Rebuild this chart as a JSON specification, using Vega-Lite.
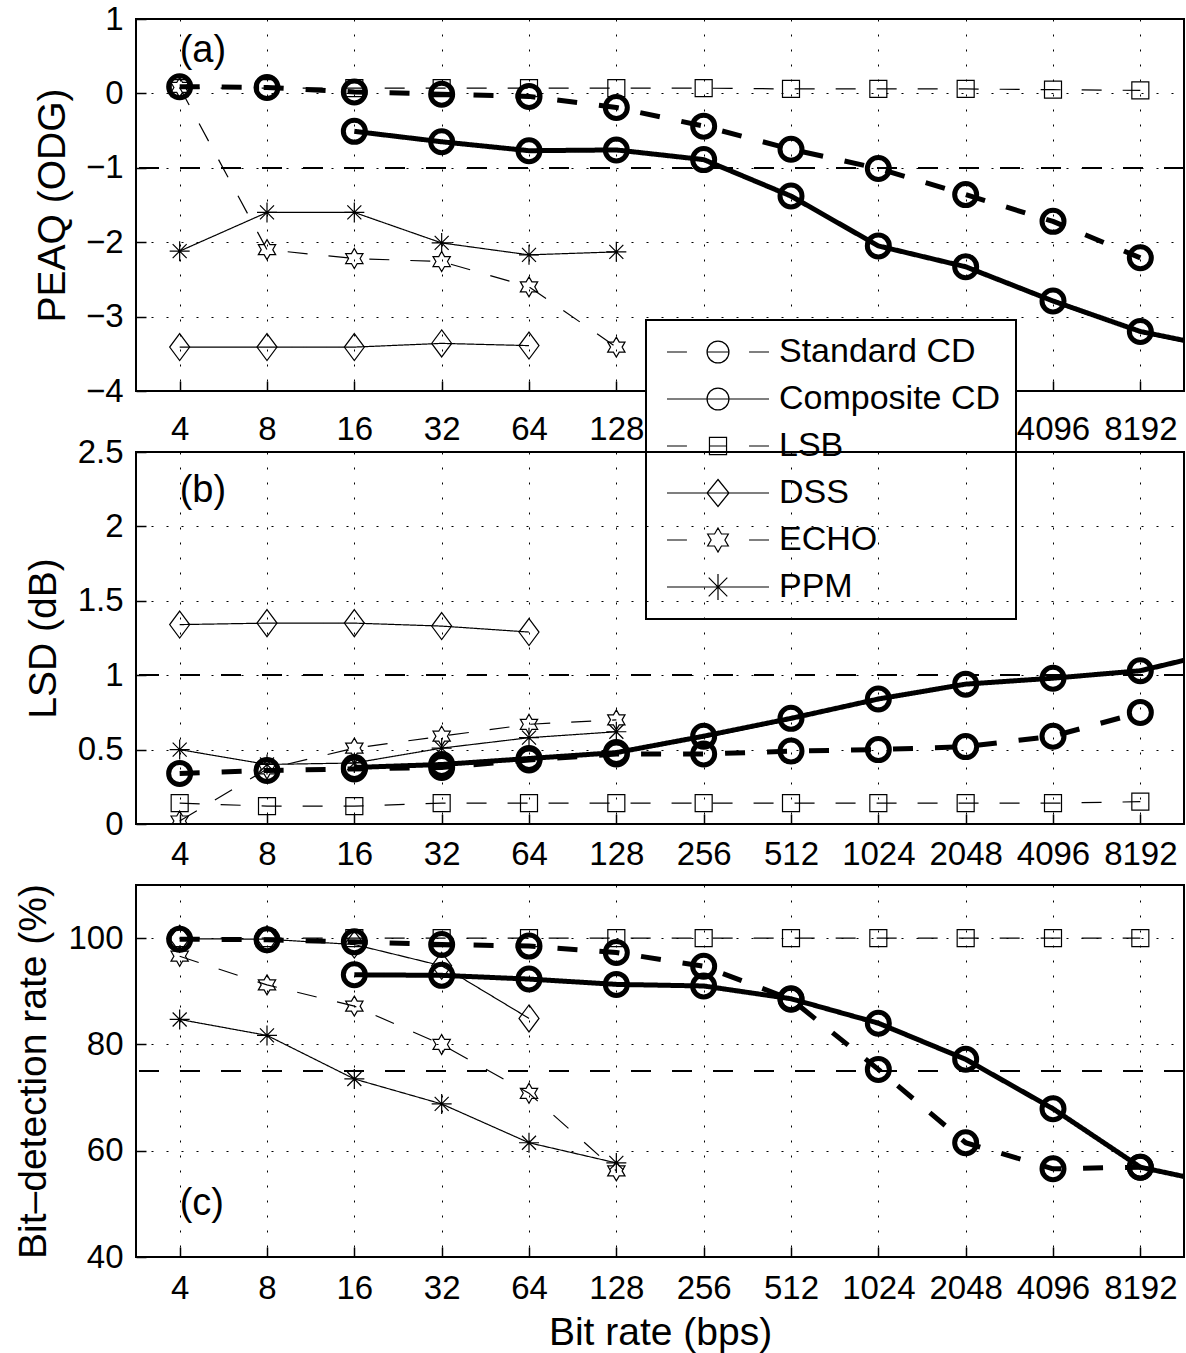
{
  "$schema": "https://vega.github.io/schema/vega-lite/v6.json",
  "background": "white",
  "padding": {"left": 12, "top": 2, "right": 4, "bottom": 4},
  "data": {
    "values": [
      {"p": "a", "s": "Standard CD", "r": 4, "v": 0.09},
      {"p": "a", "s": "Standard CD", "r": 8, "v": 0.08},
      {"p": "a", "s": "Standard CD", "r": 16, "v": 0.02},
      {"p": "a", "s": "Standard CD", "r": 32, "v": -0.01},
      {"p": "a", "s": "Standard CD", "r": 64, "v": -0.04},
      {"p": "a", "s": "Standard CD", "r": 128, "v": -0.19},
      {"p": "a", "s": "Standard CD", "r": 256, "v": -0.44},
      {"p": "a", "s": "Standard CD", "r": 512, "v": -0.75},
      {"p": "a", "s": "Standard CD", "r": 1024, "v": -1.01},
      {"p": "a", "s": "Standard CD", "r": 2048, "v": -1.36},
      {"p": "a", "s": "Standard CD", "r": 4096, "v": -1.72},
      {"p": "a", "s": "Standard CD", "r": 8192, "v": -2.21},
      {"p": "a", "s": "Composite CD", "r": 16, "v": -0.51},
      {"p": "a", "s": "Composite CD", "r": 32, "v": -0.65},
      {"p": "a", "s": "Composite CD", "r": 64, "v": -0.77},
      {"p": "a", "s": "Composite CD", "r": 128, "v": -0.76},
      {"p": "a", "s": "Composite CD", "r": 256, "v": -0.89},
      {"p": "a", "s": "Composite CD", "r": 512, "v": -1.38},
      {"p": "a", "s": "Composite CD", "r": 1024, "v": -2.05},
      {"p": "a", "s": "Composite CD", "r": 2048, "v": -2.33},
      {"p": "a", "s": "Composite CD", "r": 4096, "v": -2.79},
      {"p": "a", "s": "Composite CD", "r": 8192, "v": -3.2},
      {"p": "a", "s": "Composite CD", "r": 16384, "v": -3.44},
      {"p": "a", "s": "LSB", "r": 4, "v": 0.07},
      {"p": "a", "s": "LSB", "r": 8, "v": 0.07},
      {"p": "a", "s": "LSB", "r": 16, "v": 0.07},
      {"p": "a", "s": "LSB", "r": 32, "v": 0.07},
      {"p": "a", "s": "LSB", "r": 64, "v": 0.07},
      {"p": "a", "s": "LSB", "r": 128, "v": 0.07},
      {"p": "a", "s": "LSB", "r": 256, "v": 0.07},
      {"p": "a", "s": "LSB", "r": 512, "v": 0.06},
      {"p": "a", "s": "LSB", "r": 1024, "v": 0.06},
      {"p": "a", "s": "LSB", "r": 2048, "v": 0.06},
      {"p": "a", "s": "LSB", "r": 4096, "v": 0.05},
      {"p": "a", "s": "LSB", "r": 8192, "v": 0.04},
      {"p": "a", "s": "DSS", "r": 4, "v": -3.41},
      {"p": "a", "s": "DSS", "r": 8, "v": -3.41},
      {"p": "a", "s": "DSS", "r": 16, "v": -3.41},
      {"p": "a", "s": "DSS", "r": 32, "v": -3.36},
      {"p": "a", "s": "DSS", "r": 64, "v": -3.39},
      {"p": "a", "s": "ECHO", "r": 4, "v": 0.08},
      {"p": "a", "s": "ECHO", "r": 8, "v": -2.1},
      {"p": "a", "s": "ECHO", "r": 16, "v": -2.22},
      {"p": "a", "s": "ECHO", "r": 32, "v": -2.26},
      {"p": "a", "s": "ECHO", "r": 64, "v": -2.6},
      {"p": "a", "s": "ECHO", "r": 128, "v": -3.41},
      {"p": "a", "s": "PPM", "r": 4, "v": -2.12},
      {"p": "a", "s": "PPM", "r": 8, "v": -1.6},
      {"p": "a", "s": "PPM", "r": 16, "v": -1.6},
      {"p": "a", "s": "PPM", "r": 32, "v": -2.01},
      {"p": "a", "s": "PPM", "r": 64, "v": -2.17},
      {"p": "a", "s": "PPM", "r": 128, "v": -2.13},

      {"p": "b", "s": "Standard CD", "r": 4, "v": 0.34},
      {"p": "b", "s": "Standard CD", "r": 8, "v": 0.36},
      {"p": "b", "s": "Standard CD", "r": 16, "v": 0.37},
      {"p": "b", "s": "Standard CD", "r": 32, "v": 0.38},
      {"p": "b", "s": "Standard CD", "r": 64, "v": 0.43},
      {"p": "b", "s": "Standard CD", "r": 128, "v": 0.47},
      {"p": "b", "s": "Standard CD", "r": 256, "v": 0.47},
      {"p": "b", "s": "Standard CD", "r": 512, "v": 0.49},
      {"p": "b", "s": "Standard CD", "r": 1024, "v": 0.5},
      {"p": "b", "s": "Standard CD", "r": 2048, "v": 0.52},
      {"p": "b", "s": "Standard CD", "r": 4096, "v": 0.59},
      {"p": "b", "s": "Standard CD", "r": 8192, "v": 0.75},
      {"p": "b", "s": "Composite CD", "r": 16, "v": 0.38},
      {"p": "b", "s": "Composite CD", "r": 32, "v": 0.4},
      {"p": "b", "s": "Composite CD", "r": 64, "v": 0.44},
      {"p": "b", "s": "Composite CD", "r": 128, "v": 0.48},
      {"p": "b", "s": "Composite CD", "r": 256, "v": 0.59},
      {"p": "b", "s": "Composite CD", "r": 512, "v": 0.71},
      {"p": "b", "s": "Composite CD", "r": 1024, "v": 0.84},
      {"p": "b", "s": "Composite CD", "r": 2048, "v": 0.94},
      {"p": "b", "s": "Composite CD", "r": 4096, "v": 0.98},
      {"p": "b", "s": "Composite CD", "r": 8192, "v": 1.03},
      {"p": "b", "s": "Composite CD", "r": 16384, "v": 1.17},
      {"p": "b", "s": "LSB", "r": 4, "v": 0.14},
      {"p": "b", "s": "LSB", "r": 8, "v": 0.12},
      {"p": "b", "s": "LSB", "r": 16, "v": 0.12},
      {"p": "b", "s": "LSB", "r": 32, "v": 0.14},
      {"p": "b", "s": "LSB", "r": 64, "v": 0.14},
      {"p": "b", "s": "LSB", "r": 128, "v": 0.14},
      {"p": "b", "s": "LSB", "r": 256, "v": 0.14},
      {"p": "b", "s": "LSB", "r": 512, "v": 0.14},
      {"p": "b", "s": "LSB", "r": 1024, "v": 0.14},
      {"p": "b", "s": "LSB", "r": 2048, "v": 0.14},
      {"p": "b", "s": "LSB", "r": 4096, "v": 0.14},
      {"p": "b", "s": "LSB", "r": 8192, "v": 0.15},
      {"p": "b", "s": "DSS", "r": 4, "v": 1.34},
      {"p": "b", "s": "DSS", "r": 8, "v": 1.35},
      {"p": "b", "s": "DSS", "r": 16, "v": 1.35},
      {"p": "b", "s": "DSS", "r": 32, "v": 1.33},
      {"p": "b", "s": "DSS", "r": 64, "v": 1.29},
      {"p": "b", "s": "ECHO", "r": 4, "v": 0.02},
      {"p": "b", "s": "ECHO", "r": 8, "v": 0.37},
      {"p": "b", "s": "ECHO", "r": 16, "v": 0.51},
      {"p": "b", "s": "ECHO", "r": 32, "v": 0.59},
      {"p": "b", "s": "ECHO", "r": 64, "v": 0.67},
      {"p": "b", "s": "ECHO", "r": 128, "v": 0.7},
      {"p": "b", "s": "PPM", "r": 4, "v": 0.5},
      {"p": "b", "s": "PPM", "r": 8, "v": 0.4},
      {"p": "b", "s": "PPM", "r": 16, "v": 0.41},
      {"p": "b", "s": "PPM", "r": 32, "v": 0.51},
      {"p": "b", "s": "PPM", "r": 64, "v": 0.58},
      {"p": "b", "s": "PPM", "r": 128, "v": 0.62},

      {"p": "c", "s": "Standard CD", "r": 4, "v": 99.8},
      {"p": "c", "s": "Standard CD", "r": 8, "v": 99.7},
      {"p": "c", "s": "Standard CD", "r": 16, "v": 99.3},
      {"p": "c", "s": "Standard CD", "r": 32, "v": 98.8},
      {"p": "c", "s": "Standard CD", "r": 64, "v": 98.5},
      {"p": "c", "s": "Standard CD", "r": 128, "v": 97.3},
      {"p": "c", "s": "Standard CD", "r": 256, "v": 94.7},
      {"p": "c", "s": "Standard CD", "r": 512, "v": 88.5},
      {"p": "c", "s": "Standard CD", "r": 1024, "v": 75.3},
      {"p": "c", "s": "Standard CD", "r": 2048, "v": 61.5},
      {"p": "c", "s": "Standard CD", "r": 4096, "v": 56.6},
      {"p": "c", "s": "Standard CD", "r": 8192, "v": 56.9},
      {"p": "c", "s": "Composite CD", "r": 16, "v": 93.1},
      {"p": "c", "s": "Composite CD", "r": 32, "v": 93.0},
      {"p": "c", "s": "Composite CD", "r": 64, "v": 92.3},
      {"p": "c", "s": "Composite CD", "r": 128, "v": 91.3},
      {"p": "c", "s": "Composite CD", "r": 256, "v": 91.0},
      {"p": "c", "s": "Composite CD", "r": 512, "v": 88.6},
      {"p": "c", "s": "Composite CD", "r": 1024, "v": 84.0},
      {"p": "c", "s": "Composite CD", "r": 2048, "v": 77.2},
      {"p": "c", "s": "Composite CD", "r": 4096, "v": 67.9},
      {"p": "c", "s": "Composite CD", "r": 8192, "v": 56.9},
      {"p": "c", "s": "Composite CD", "r": 16384, "v": 53.4},
      {"p": "c", "s": "LSB", "r": 4, "v": 100},
      {"p": "c", "s": "LSB", "r": 8, "v": 100},
      {"p": "c", "s": "LSB", "r": 16, "v": 100},
      {"p": "c", "s": "LSB", "r": 32, "v": 100},
      {"p": "c", "s": "LSB", "r": 64, "v": 100},
      {"p": "c", "s": "LSB", "r": 128, "v": 100},
      {"p": "c", "s": "LSB", "r": 256, "v": 100},
      {"p": "c", "s": "LSB", "r": 512, "v": 100},
      {"p": "c", "s": "LSB", "r": 1024, "v": 100},
      {"p": "c", "s": "LSB", "r": 2048, "v": 100},
      {"p": "c", "s": "LSB", "r": 4096, "v": 100},
      {"p": "c", "s": "LSB", "r": 8192, "v": 100},
      {"p": "c", "s": "DSS", "r": 4, "v": 99.9},
      {"p": "c", "s": "DSS", "r": 8, "v": 99.8},
      {"p": "c", "s": "DSS", "r": 16, "v": 98.8},
      {"p": "c", "s": "DSS", "r": 32, "v": 94.8},
      {"p": "c", "s": "DSS", "r": 64, "v": 84.9},
      {"p": "c", "s": "ECHO", "r": 4, "v": 96.6},
      {"p": "c", "s": "ECHO", "r": 8, "v": 91.2},
      {"p": "c", "s": "ECHO", "r": 16, "v": 87.2},
      {"p": "c", "s": "ECHO", "r": 32, "v": 80.0},
      {"p": "c", "s": "ECHO", "r": 64, "v": 70.8},
      {"p": "c", "s": "ECHO", "r": 128, "v": 56.2},
      {"p": "c", "s": "PPM", "r": 4, "v": 84.7},
      {"p": "c", "s": "PPM", "r": 8, "v": 81.7},
      {"p": "c", "s": "PPM", "r": 16, "v": 73.5},
      {"p": "c", "s": "PPM", "r": 32, "v": 68.8},
      {"p": "c", "s": "PPM", "r": 64, "v": 61.5},
      {"p": "c", "s": "PPM", "r": 128, "v": 57.7}
    ]
  },
  "vconcat": [
    {
      "width": 1048,
      "height": 372,
      "layer": [
        {
          "mark": {"type": "rule", "strokeDash": [20, 21], "strokeWidth": 1.3, "color": "black"},
          "encoding": {"y": {"datum": -1}}
        },
        {
          "transform": [{"filter": "datum.p === 'a' && (datum.s === 'Standard CD' || datum.s === 'Composite CD')"}],
          "mark": {"type": "line", "strokeWidth": 5, "color": "black", "strokeCap": "butt", "strokeJoin": "round", "clip": true},
          "encoding": {
            "x": {"field": "r", "type": "quantitative", "scale": {"type": "log", "base": 2, "domain": [2.8284271, 11585.2375], "nice": false},
                  "axis": {"values": [4, 8, 16, 32, 64, 128, 256, 512, 1024, 2048, 4096, 8192], "format": "d", "title": null, "labelPadding": 32}},
            "y": {"field": "v", "type": "quantitative", "scale": {"domain": [-4, 1], "nice": false, "zero": false},
                  "axis": {"values": [-4, -3, -2, -1, 0, 1], "format": "~g", "title": "PEAQ (ODG)", "titleX": -72, "titleY": 186, "titleAngle": 270, "titleBaseline": "alphabetic", "titleAlign": "center"}},
            "detail": {"field": "s"},
            "strokeDash": {"field": "s", "type": "nominal", "legend": null,
                           "scale": {"domain": ["Standard CD", "Composite CD", "LSB", "DSS", "ECHO", "PPM"], "range": [[20, 22], [1, 0], [20, 21], [1, 0], [20, 21], [1, 0]]}}
          }
        },
        {
          "transform": [{"filter": "datum.p === 'a' && (datum.s === 'Standard CD' || datum.s === 'Composite CD')"}],
          "mark": {"type": "point", "shape": "circle", "size": 484, "strokeWidth": 5, "filled": false, "color": "black", "opacity": 1, "clip": true},
          "encoding": {
            "x": {"field": "r", "type": "quantitative"},
            "y": {"field": "v", "type": "quantitative"}
          }
        },
        {
          "transform": [{"filter": "datum.p === 'a' && datum.s !== 'Standard CD' && datum.s !== 'Composite CD'"}],
          "mark": {"type": "line", "strokeWidth": 1.2, "color": "black", "clip": true},
          "encoding": {
            "x": {"field": "r", "type": "quantitative"},
            "y": {"field": "v", "type": "quantitative"},
            "detail": {"field": "s"},
            "strokeDash": {"field": "s", "type": "nominal", "legend": null,
                           "scale": {"domain": ["Standard CD", "Composite CD", "LSB", "DSS", "ECHO", "PPM"], "range": [[20, 22], [1, 0], [20, 21], [1, 0], [20, 21], [1, 0]]}}
          }
        },
        {
          "transform": [{"filter": "datum.p === 'a' && datum.s !== 'Standard CD' && datum.s !== 'Composite CD'"}],
          "mark": {"type": "point", "size": 400, "strokeWidth": 1.2, "filled": false, "color": "black", "opacity": 1, "clip": true},
          "encoding": {
            "x": {"field": "r", "type": "quantitative"},
            "y": {"field": "v", "type": "quantitative"},
            "shape": {"field": "s", "type": "nominal", "legend": null,
                      "scale": {"domain": ["LSB", "DSS", "ECHO", "PPM"],
                                "range": ["M-0.85,-0.85L0.85,-0.85L0.85,0.85L-0.85,0.85Z",
                                          "M0,-1.35L1,0L0,1.35L-1,0Z",
                                          "M0,-1L0.289,-0.5L0.866,-0.5L0.577,0L0.866,0.5L0.289,0.5L0,1L-0.289,0.5L-0.866,0.5L-0.577,0L-0.866,-0.5L-0.289,-0.5Z",
                                          "M-1,0L1,0M0,-1L0,1M-0.7,-0.7L0.7,0.7M-0.7,0.7L0.7,-0.7"]}}
          }
        },
        {
          "transform": [{"filter": "datum.p === 'a'"}],
          "mark": {"type": "point", "opacity": 0, "filled": false, "color": "black"},
          "encoding": {
            "x": {"field": "r", "type": "quantitative"},
            "y": {"field": "v", "type": "quantitative"},
            "shape": {"field": "s", "type": "nominal",
                      "scale": {"domain": ["Standard CD", "Composite CD", "LSB", "DSS", "ECHO", "PPM"],
                                "range": ["M-3.4,0L-2.07,0M-0.73,0L0.73,0M2.07,0L3.4,0M0.73,0A0.73,0.73,0,1,1,-0.73,0A0.73,0.73,0,1,1,0.73,0Z",
                                          "M-3.4,0L3.4,0M0.73,0A0.73,0.73,0,1,1,-0.73,0A0.73,0.73,0,1,1,0.73,0Z",
                                          "M-3.4,0L-2.07,0M-0.57,0L0.57,0M2.07,0L3.4,0M-0.57,-0.57L0.57,-0.57L0.57,0.57L-0.57,0.57Z",
                                          "M-3.4,0L3.4,0M0,-0.9L0.73,0L0,0.9L-0.73,0Z",
                                          "M-3.4,0L-2.07,0M2.07,0L3.4,0M0,-0.8L0.23,-0.4L0.69,-0.4L0.46,0L0.69,0.4L0.23,0.4L0,0.8L-0.23,0.4L-0.69,0.4L-0.46,0L-0.69,-0.4L-0.23,-0.4Z",
                                          "M-3.4,0L3.4,0M0,-0.87L0,0.87M-0.62,-0.62L0.62,0.62M-0.62,0.62L0.62,-0.62"]},
                      "legend": {"orient": "none", "legendX": 510, "legendY": 301, "title": null, "padding": 15,
                                 "strokeColor": "black", "fillColor": "white",
                                 "labelFont": "Liberation Sans", "labelFontSize": 34, "labelColor": "black", "labelLimit": 400,
                                 "symbolSize": 900, "symbolStrokeWidth": 1.2, "symbolStrokeColor": "black", "symbolFillColor": "transparent",
                                 "symbolOpacity": 1, "symbolOffset": 40, "labelOffset": 44, "rowPadding": 13}}
          }
        },
        {
          "data": {"values": [{"lab": "(a)", "r": 4, "v": 0.57}]},
          "mark": {"type": "text", "align": "left", "baseline": "middle", "fontSize": 38, "font": "Liberation Sans", "color": "black"},
          "encoding": {
            "x": {"field": "r", "type": "quantitative"},
            "y": {"field": "v", "type": "quantitative"},
            "text": {"field": "lab"}
          }
        }
      ],
      "resolve": {"scale": {"shape": "independent"}, "legend": {"shape": "independent"}}
    },
    {
      "width": 1048,
      "height": 372,
      "layer": [
        {
          "mark": {"type": "rule", "strokeDash": [20, 21], "strokeWidth": 1.3, "color": "black"},
          "encoding": {"y": {"datum": 1}}
        },
        {
          "transform": [{"filter": "datum.p === 'b' && (datum.s === 'Standard CD' || datum.s === 'Composite CD')"}],
          "mark": {"type": "line", "strokeWidth": 5, "color": "black", "strokeCap": "butt", "strokeJoin": "round", "clip": true},
          "encoding": {
            "x": {"field": "r", "type": "quantitative", "scale": {"type": "log", "base": 2, "domain": [2.8284271, 11585.2375], "nice": false},
                  "axis": {"values": [4, 8, 16, 32, 64, 128, 256, 512, 1024, 2048, 4096, 8192], "format": "d", "title": null, "labelPadding": 24}},
            "y": {"field": "v", "type": "quantitative", "scale": {"domain": [0, 2.5], "nice": false},
                  "axis": {"values": [0, 0.5, 1, 1.5, 2, 2.5], "format": "~g", "title": "LSD (dB)", "titleX": -81, "titleY": 186, "titleAngle": 270, "titleBaseline": "alphabetic", "titleAlign": "center"}},
            "detail": {"field": "s"},
            "strokeDash": {"field": "s", "type": "nominal", "legend": null,
                           "scale": {"domain": ["Standard CD", "Composite CD", "LSB", "DSS", "ECHO", "PPM"], "range": [[20, 22], [1, 0], [20, 21], [1, 0], [20, 21], [1, 0]]}}
          }
        },
        {
          "transform": [{"filter": "datum.p === 'b' && (datum.s === 'Standard CD' || datum.s === 'Composite CD')"}],
          "mark": {"type": "point", "shape": "circle", "size": 484, "strokeWidth": 5, "filled": false, "color": "black", "opacity": 1, "clip": true},
          "encoding": {
            "x": {"field": "r", "type": "quantitative"},
            "y": {"field": "v", "type": "quantitative"}
          }
        },
        {
          "transform": [{"filter": "datum.p === 'b' && datum.s !== 'Standard CD' && datum.s !== 'Composite CD'"}],
          "mark": {"type": "line", "strokeWidth": 1.2, "color": "black", "clip": true},
          "encoding": {
            "x": {"field": "r", "type": "quantitative"},
            "y": {"field": "v", "type": "quantitative"},
            "detail": {"field": "s"},
            "strokeDash": {"field": "s", "type": "nominal", "legend": null,
                           "scale": {"domain": ["Standard CD", "Composite CD", "LSB", "DSS", "ECHO", "PPM"], "range": [[20, 22], [1, 0], [20, 21], [1, 0], [20, 21], [1, 0]]}}
          }
        },
        {
          "transform": [{"filter": "datum.p === 'b' && datum.s !== 'Standard CD' && datum.s !== 'Composite CD'"}],
          "mark": {"type": "point", "size": 400, "strokeWidth": 1.2, "filled": false, "color": "black", "opacity": 1, "clip": true},
          "encoding": {
            "x": {"field": "r", "type": "quantitative"},
            "y": {"field": "v", "type": "quantitative"},
            "shape": {"field": "s", "type": "nominal", "legend": null,
                      "scale": {"domain": ["LSB", "DSS", "ECHO", "PPM"],
                                "range": ["M-0.85,-0.85L0.85,-0.85L0.85,0.85L-0.85,0.85Z",
                                          "M0,-1.35L1,0L0,1.35L-1,0Z",
                                          "M0,-1L0.289,-0.5L0.866,-0.5L0.577,0L0.866,0.5L0.289,0.5L0,1L-0.289,0.5L-0.866,0.5L-0.577,0L-0.866,-0.5L-0.289,-0.5Z",
                                          "M-1,0L1,0M0,-1L0,1M-0.7,-0.7L0.7,0.7M-0.7,0.7L0.7,-0.7"]}}
          }
        },
        {
          "data": {"values": [{"lab": "(b)", "r": 4, "v": 2.24}]},
          "mark": {"type": "text", "align": "left", "baseline": "middle", "fontSize": 38, "font": "Liberation Sans", "color": "black"},
          "encoding": {
            "x": {"field": "r", "type": "quantitative"},
            "y": {"field": "v", "type": "quantitative"},
            "text": {"field": "lab"}
          }
        }
      ]
    },
    {
      "width": 1048,
      "height": 372,
      "layer": [
        {
          "mark": {"type": "rule", "strokeDash": [20, 21], "strokeWidth": 1.3, "color": "black"},
          "encoding": {"y": {"datum": 75}}
        },
        {
          "transform": [{"filter": "datum.p === 'c' && (datum.s === 'Standard CD' || datum.s === 'Composite CD')"}],
          "mark": {"type": "line", "strokeWidth": 5, "color": "black", "strokeCap": "butt", "strokeJoin": "round", "clip": true},
          "encoding": {
            "x": {"field": "r", "type": "quantitative", "scale": {"type": "log", "base": 2, "domain": [2.8284271, 11585.2375], "nice": false},
                  "axis": {"values": [4, 8, 16, 32, 64, 128, 256, 512, 1024, 2048, 4096, 8192], "format": "d", "title": "Bit rate (bps)", "labelPadding": 25, "titleY": 87, "titleBaseline": "alphabetic"}},
            "y": {"field": "v", "type": "quantitative", "scale": {"domain": [40, 110], "nice": false, "zero": false},
                  "axis": {"values": [40, 60, 80, 100], "format": "~g", "title": "Bit–detection rate (%)", "titleX": -91, "titleY": 186, "titleAngle": 270, "titleBaseline": "alphabetic", "titleAlign": "center"}},
            "detail": {"field": "s"},
            "strokeDash": {"field": "s", "type": "nominal", "legend": null,
                           "scale": {"domain": ["Standard CD", "Composite CD", "LSB", "DSS", "ECHO", "PPM"], "range": [[20, 22], [1, 0], [20, 21], [1, 0], [20, 21], [1, 0]]}}
          }
        },
        {
          "transform": [{"filter": "datum.p === 'c' && (datum.s === 'Standard CD' || datum.s === 'Composite CD')"}],
          "mark": {"type": "point", "shape": "circle", "size": 484, "strokeWidth": 5, "filled": false, "color": "black", "opacity": 1, "clip": true},
          "encoding": {
            "x": {"field": "r", "type": "quantitative"},
            "y": {"field": "v", "type": "quantitative"}
          }
        },
        {
          "transform": [{"filter": "datum.p === 'c' && datum.s !== 'Standard CD' && datum.s !== 'Composite CD'"}],
          "mark": {"type": "line", "strokeWidth": 1.2, "color": "black", "clip": true},
          "encoding": {
            "x": {"field": "r", "type": "quantitative"},
            "y": {"field": "v", "type": "quantitative"},
            "detail": {"field": "s"},
            "strokeDash": {"field": "s", "type": "nominal", "legend": null,
                           "scale": {"domain": ["Standard CD", "Composite CD", "LSB", "DSS", "ECHO", "PPM"], "range": [[20, 22], [1, 0], [20, 21], [1, 0], [20, 21], [1, 0]]}}
          }
        },
        {
          "transform": [{"filter": "datum.p === 'c' && datum.s !== 'Standard CD' && datum.s !== 'Composite CD'"}],
          "mark": {"type": "point", "size": 400, "strokeWidth": 1.2, "filled": false, "color": "black", "opacity": 1, "clip": true},
          "encoding": {
            "x": {"field": "r", "type": "quantitative"},
            "y": {"field": "v", "type": "quantitative"},
            "shape": {"field": "s", "type": "nominal", "legend": null,
                      "scale": {"domain": ["LSB", "DSS", "ECHO", "PPM"],
                                "range": ["M-0.85,-0.85L0.85,-0.85L0.85,0.85L-0.85,0.85Z",
                                          "M0,-1.35L1,0L0,1.35L-1,0Z",
                                          "M0,-1L0.289,-0.5L0.866,-0.5L0.577,0L0.866,0.5L0.289,0.5L0,1L-0.289,0.5L-0.866,0.5L-0.577,0L-0.866,-0.5L-0.289,-0.5Z",
                                          "M-1,0L1,0M0,-1L0,1M-0.7,-0.7L0.7,0.7M-0.7,0.7L0.7,-0.7"]}}
          }
        },
        {
          "data": {"values": [{"lab": "(c)", "r": 4, "v": 50}]},
          "mark": {"type": "text", "align": "left", "baseline": "middle", "fontSize": 38, "font": "Liberation Sans", "color": "black"},
          "encoding": {
            "x": {"field": "r", "type": "quantitative"},
            "y": {"field": "v", "type": "quantitative"},
            "text": {"field": "lab"}
          }
        }
      ]
    }
  ],
  "spacing": 61,
  "bounds": "flush",
  "resolve": {
    "scale": {"x": "independent", "y": "independent", "shape": "independent", "strokeDash": "independent"},
    "legend": {"shape": "independent", "strokeDash": "independent"}
  },
  "config": {
    "font": "Liberation Sans",
    "view": {"stroke": "black", "strokeWidth": 2},
    "axis": {
      "labelFont": "Liberation Sans", "labelFontSize": 33, "labelColor": "black",
      "titleFont": "Liberation Sans", "titleFontSize": 39, "titleFontWeight": "normal", "titleColor": "black",
      "grid": true, "gridColor": "black", "gridDash": [2, 13], "gridWidth": 1, "gridOpacity": 1,
      "domain": false, "ticks": true, "tickColor": "black", "tickSize": -10, "tickWidth": 1.5,
      "labelOverlap": false, "labelFlush": false
    },
    "axisY": {"labelPadding": 23},
    "legend": {"strokeWidth": 2}
  }
}
